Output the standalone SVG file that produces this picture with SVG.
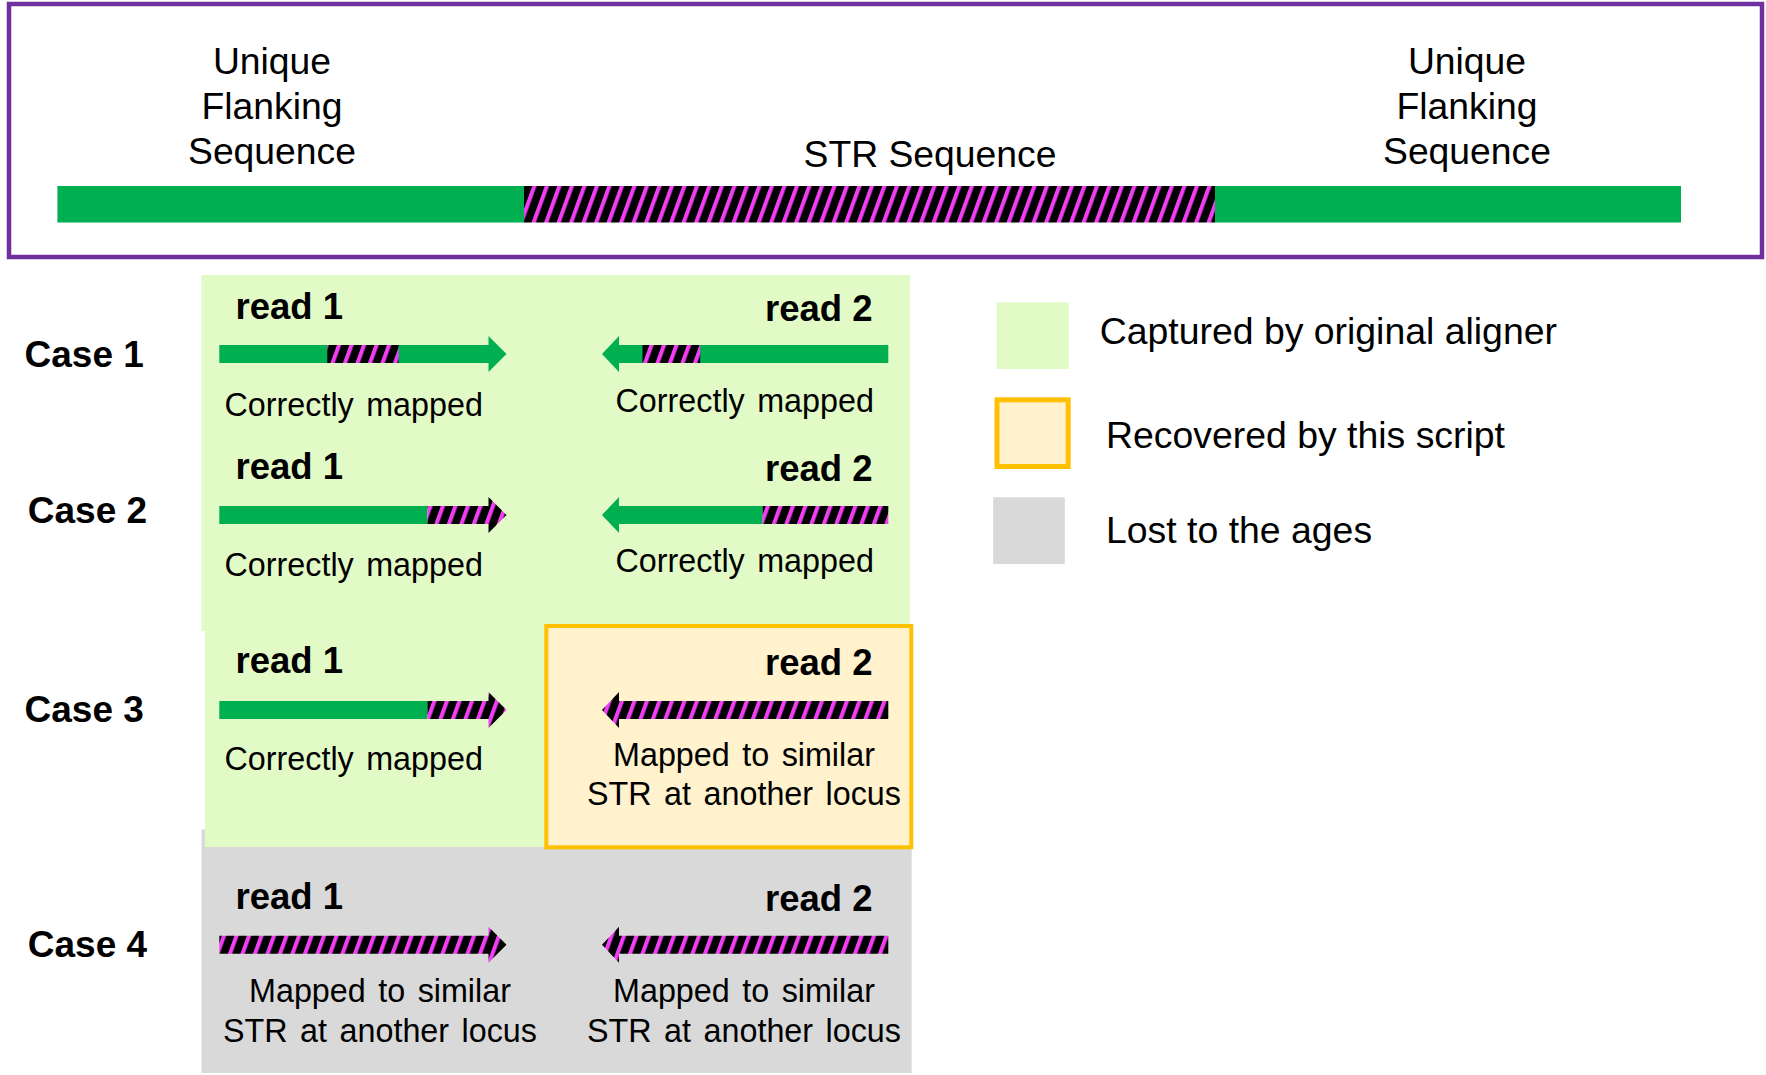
<svg xmlns="http://www.w3.org/2000/svg" width="1766" height="1075" viewBox="0 0 1766 1075">
<defs>
<pattern id="hatch" patternUnits="userSpaceOnUse" width="12.5" height="10" patternTransform="skewX(-20)">
<rect width="12.5" height="10" fill="#000000"/>
<rect width="4.3" height="10" fill="#F23EF2"/>
</pattern>
</defs>
<style>
text{font-family:"Liberation Sans",Arial,Helvetica,sans-serif;fill:#000}
.top{font-size:37.3px;text-anchor:middle}
.case{font-size:37px;font-weight:bold}
.read{font-size:36.5px;font-weight:bold}
.lbl{font-size:32.3px;word-spacing:3.5px}
.mid{text-anchor:middle}
.end{text-anchor:end}
.leg{font-size:37.4px}
.g{fill:#00B050}
.h{fill:url(#hatch)}
.lg{fill:#E2FAC6}
.or{fill:#FFF2CC;stroke:#FFC000}
.gr{fill:#D9D9D9}
</style>
<rect width="1766" height="1075" fill="#ffffff"/>

<g id="locus">
<rect x="9" y="4" width="1753" height="253" fill="none" stroke="#7030A0" stroke-width="4.5"/>
<rect class="g" x="57.4" y="186" width="467" height="36.5"/>
<rect class="h" x="524" y="186" width="691" height="36.5"/>
<rect class="g" x="1215" y="186" width="466" height="36.5"/>
<text class="top" x="272" y="74">Unique</text>
<text class="top" x="272" y="119.3">Flanking</text>
<text class="top" x="272" y="163.5">Sequence</text>
<text class="top" x="930" y="167">STR Sequence</text>
<text class="top" x="1467" y="74">Unique</text>
<text class="top" x="1467" y="119.3">Flanking</text>
<text class="top" x="1467" y="163.5">Sequence</text>
</g>

<g id="backgrounds">
<rect class="gr" x="201.5" y="829.3" width="710.2" height="243.7"/>
<rect class="lg" x="201.5" y="275" width="708.5" height="356"/>
<rect class="lg" x="205" y="630" width="345" height="217"/>
<rect class="or" x="546.3" y="626" width="365" height="221.3" stroke-width="4"/>
</g>

<g id="case1">
<text class="case" x="24.5" y="366.5">Case 1</text>
<text class="read" x="235.5" y="319">read 1</text>
<path class="g" d="M219.3,345 H488.5 V336 L506.5,354 L488.5,372 V363 H219.3 Z"/>
<rect class="h" x="327.3" y="345" width="71.3" height="18"/>
<text class="lbl" x="224.5" y="415.7">Correctly mapped</text>
<text class="read end" x="872.5" y="321">read 2</text>
<path class="g" d="M888.3,345 H619 V336 L602,354 L619,372 V363 H888.3 Z"/>
<rect class="h" x="642.5" y="345" width="57.7" height="18"/>
<text class="lbl" x="615.5" y="411.7">Correctly mapped</text>
</g>

<g id="case2">
<text class="case" x="27.8" y="523">Case 2</text>
<text class="read" x="235.5" y="479.3">read 1</text>
<rect class="g" x="219.3" y="506" width="208.1" height="18"/>
<path class="h" d="M427.4,506 H488.5 V497 L506.5,515 L488.5,533 V524 H427.4 Z"/>
<text class="lbl" x="224.5" y="576">Correctly mapped</text>
<text class="read end" x="872.5" y="481">read 2</text>
<path class="g" d="M762.6,506 H619 V497 L602,515 L619,533 V524 H762.6 Z"/>
<rect class="h" x="762.6" y="506" width="125.7" height="18"/>
<text class="lbl" x="615.5" y="571.7">Correctly mapped</text>
</g>

<g id="case3">
<text class="case" x="24.5" y="721.5">Case 3</text>
<text class="read" x="235.5" y="673">read 1</text>
<rect class="g" x="219.3" y="701" width="208.1" height="18"/>
<path class="h" d="M427.4,701 H488.5 V692 L506.5,710 L488.5,728 V719 H427.4 Z"/>
<text class="lbl" x="224.5" y="770">Correctly mapped</text>
<text class="read end" x="872.5" y="675">read 2</text>
<path class="h" d="M888.3,701 H619 V692 L602,710 L619,728 V719 H888.3 Z"/>
<text class="lbl mid" x="744" y="765.7">Mapped to similar</text>
<text class="lbl mid" x="744" y="805">STR at another locus</text>
</g>

<g id="case4">
<text class="case" x="27.8" y="957">Case 4</text>
<text class="read" x="235.5" y="909.3">read 1</text>
<path class="h" d="M219.3,935.7 H488.5 V926.7 L506.5,944.7 L488.5,962.7 V953.7 H219.3 Z"/>
<text class="lbl mid" x="380" y="1001.7">Mapped to similar</text>
<text class="lbl mid" x="380" y="1041.7">STR at another locus</text>
<text class="read end" x="872.5" y="910.7">read 2</text>
<path class="h" d="M888.3,935.7 H619 V926.7 L602,944.7 L619,962.7 V953.7 H888.3 Z"/>
<text class="lbl mid" x="744" y="1001.7">Mapped to similar</text>
<text class="lbl mid" x="744" y="1041.7">STR at another locus</text>
</g>

<g id="legend">
<rect class="lg" x="996.6" y="302.3" width="72" height="66.7"/>
<text class="leg" x="1099.7" y="344">Captured by original aligner</text>
<rect class="or" x="997" y="399.8" width="71.2" height="66.7" stroke-width="5"/>
<text class="leg" x="1106" y="448.3">Recovered by this script</text>
<rect class="gr" x="993.2" y="497.3" width="71.6" height="66.7"/>
<text class="leg" x="1106" y="543.3">Lost to the ages</text>
</g>

<g id="connectors"/>
</svg>
